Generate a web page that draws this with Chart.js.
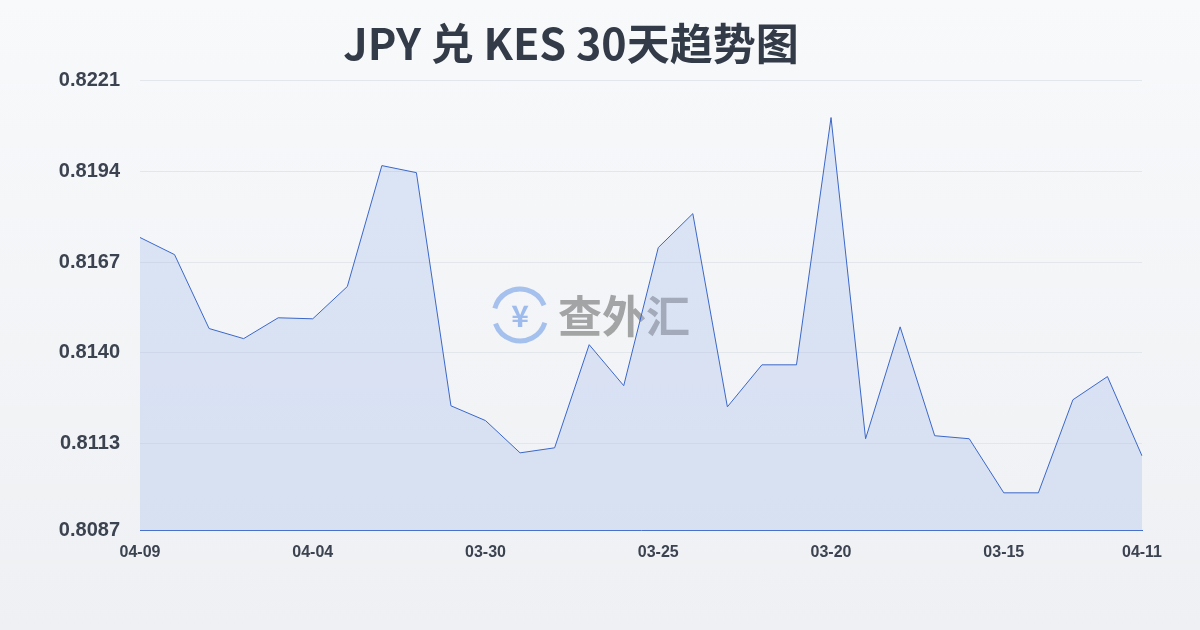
<!DOCTYPE html>
<html><head><meta charset="utf-8">
<script src="https://cdn.jsdelivr.net/npm/chart.js@4"></script>
<style>
html,body{margin:0;padding:0;}
body{width:1200px;height:630px;background:linear-gradient(#f8f9fb,#eef0f3);}
#wrap{position:absolute;left:0;top:0;width:1200px;height:630px;}
</style></head><body>
<div id="wrap"><canvas id="c" width="1200" height="630"></canvas></div>
<script>
const titleText = "JPY 兑 KES 30天趋势图";
const labels = ["04-09","04-08","04-07","04-06","04-05","04-04","04-03","04-02","04-01","03-31","03-30","03-29","03-28","03-27","03-26","03-25","03-24","03-23","03-22","03-21","03-20","03-19","03-18","03-17","03-16","03-15","03-14","03-13","03-12","04-11"];
const values = [0.81743,0.81692,0.81472,0.81442,0.81504,0.81501,0.81597,0.81957,0.81936,0.81242,0.81198,0.81102,0.81117,0.81424,0.81302,0.81713,0.81814,0.81239,0.81364,0.81364,0.82100,0.81144,0.81477,0.81153,0.81144,0.80983,0.80983,0.81260,0.81329,0.81093];
const yTicks = [0.8087,0.8113,0.8140,0.8167,0.8194,0.8221];
const shownX = [0,5,10,15,20,25,29];

const watermark = {id:'wm',beforeDatasetsDraw(ch){
  const c=ch.ctx;c.save();
  const cx=520,cy=315;
  c.strokeStyle='rgba(100,150,230,0.55)';c.lineWidth=5;
  c.beginPath();c.arc(cx,cy,26,0.3,2.8);c.stroke();
  c.beginPath();c.arc(cx,cy,26,3.4,5.9);c.stroke();
  c.fillStyle='rgba(100,150,230,0.6)';c.font='bold 30px "Noto Sans CJK SC"';c.textAlign='center';c.textBaseline='middle';
  c.fillText('¥',cx,cy+1);
  c.fillStyle='rgba(110,110,110,0.6)';c.font='bold 44px "Noto Sans CJK SC"';c.textAlign='left';
  c.fillText('查外汇',558,316);
  c.restore();
}};

new Chart(document.getElementById('c'),{
  type:'line',
  data:{labels,datasets:[{data:values,borderColor:'#3b67c9',borderWidth:1,backgroundColor:'rgba(160,185,235,0.3)',fill:'start',pointRadius:0,tension:0}]},
  options:{
    responsive:false,animation:false,
    layout:{padding:{left:0,right:58,top:0,bottom:64}},
    plugins:{legend:{display:false},tooltip:{enabled:false},
      title:{display:true,text:titleText,color:'#333b48',font:{size:43,weight:'bold',family:'"Noto Sans CJK SC"'},padding:{top:18,bottom:11}}},
    scales:{
      x:{grid:{display:false},border:{color:'#3b67c9'},
        ticks:{autoSkip:false,maxRotation:0,padding:4,color:'#3c4350',font:{size:16,weight:'bold'},
          callback:(v,i)=>shownX.includes(i)?labels[i]:''}},
      y:{min:0.8087,max:0.8221,grid:{color:'#e3e6ea',drawTicks:false},border:{display:false},
        afterBuildTicks:a=>{a.ticks=yTicks.map(v=>({value:v}));},
        afterFit:a=>{a.width=140;},
        ticks:{padding:20,color:'#3c4350',font:{size:20,weight:'bold'},callback:v=>v.toFixed(4)}}
    }
  },
  plugins:[watermark]
});
</script></body></html>
